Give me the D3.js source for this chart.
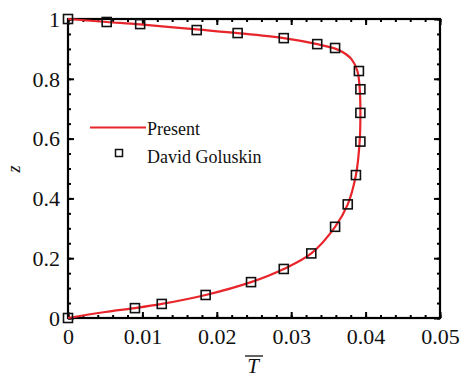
<!DOCTYPE html>
<html><head><meta charset="utf-8">
<script src="https://cdn.jsdelivr.net/npm/d3@7"></script>
<style>body{margin:0;background:#fff}svg{display:block}svg text{font-family:"Liberation Serif","DejaVu Serif",serif !important}</style>
</head><body>
<svg id="c" width="463" height="378"></svg>
<script>
// Data: David Goluskin points (T, z)
const refT = [0, 0.0052, 0.0097, 0.0173, 0.0228, 0.0290, 0.0335, 0.0359, 0.0391, 0.0393, 0.0393, 0.0393, 0.0387, 0.0376, 0.0359, 0.0327, 0.0290, 0.0246, 0.0185, 0.0126, 0.0090, 0];
const refZ = [1, 0.990, 0.983, 0.963, 0.953, 0.936, 0.916, 0.903, 0.826, 0.765, 0.686, 0.590, 0.478, 0.380, 0.305, 0.216, 0.164, 0.120, 0.077, 0.047, 0.033, 0];
// Present curve (T, z)
const curT = [0, 0.0050, 0.0090, 0.0126, 0.0185, 0.0246, 0.0290, 0.0327, 0.0359, 0.0376, 0.0387, 0.0392, 0.0393, 0.0392, 0.0389, 0.0381, 0.0370, 0.0360, 0.0335, 0.0290, 0.0228, 0.0173, 0.0097, 0.0052, 0];
const curZ = [0, 0.020, 0.033, 0.047, 0.077, 0.120, 0.164, 0.216, 0.305, 0.380, 0.478, 0.590, 0.690, 0.770, 0.826, 0.866, 0.888, 0.900, 0.916, 0.936, 0.953, 0.965, 0.982, 0.990, 1];
const xTicks = [0, 0.01, 0.02, 0.03, 0.04, 0.05];
const xTickLabels = ["0", "0.01", "0.02", "0.03", "0.04", "0.05"];
const yTicks = [0, 0.2, 0.4, 0.6, 0.8, 1];
const yTickLabels = ["0", "0.2", "0.4", "0.6", "0.8", "1"];
const legendLabels = ["Present", "David Goluskin"];

const svg = d3.select("#c");
const L = 68, R = 440, T = 19, B = 318;
const x = d3.scaleLinear().domain([0, 0.05]).range([L, R]);
const y = d3.scaleLinear().domain([0, 1]).range([B, T]);
const red = "#e8252b";
const font = "Liberation Serif";

const xMinor = d3.range(0, 0.0501, 0.002);
const yMinor = d3.range(0, 1.001, 0.05);

const gB = svg.append("g").attr("transform", `translate(0,${B})`)
  .call(d3.axisBottom(x).tickValues(xTicks).tickFormat((d,i)=>xTickLabels[i]).tickSize(-6).tickPadding(10));
const gBm = svg.append("g").attr("transform", `translate(0,${B})`)
  .call(d3.axisBottom(x).tickValues(xMinor).tickFormat("").tickSize(-3));
const gT = svg.append("g").attr("transform", `translate(0,${T})`)
  .call(d3.axisTop(x).tickValues(xTicks).tickFormat("").tickSize(-6));
const gTm = svg.append("g").attr("transform", `translate(0,${T})`)
  .call(d3.axisTop(x).tickValues(xMinor).tickFormat("").tickSize(-3));
const gL = svg.append("g").attr("transform", `translate(${L},0)`)
  .call(d3.axisLeft(y).tickValues(yTicks).tickFormat((d,i)=>yTickLabels[i]).tickSize(-6).tickPadding(8));
const gLm = svg.append("g").attr("transform", `translate(${L},0)`)
  .call(d3.axisLeft(y).tickValues(yMinor).tickFormat("").tickSize(-3));
const gR = svg.append("g").attr("transform", `translate(${R},0)`)
  .call(d3.axisRight(y).tickValues(yTicks).tickFormat("").tickSize(-6));
const gRm = svg.append("g").attr("transform", `translate(${R},0)`)
  .call(d3.axisRight(y).tickValues(yMinor).tickFormat("").tickSize(-3));
[gB,gBm,gT,gTm,gL,gLm,gR,gRm].forEach(g=>{
  g.attr("font-family", font);
  g.select(".domain").remove();
  g.selectAll(".tick line").attr("stroke","#000").attr("stroke-width",2);
  g.selectAll("text").attr("font-family",font).attr("font-size",22).attr("fill","#111");
});
gB.selectAll("text").attr("dy","0.72em");
gL.selectAll("text").attr("dy","0.33em");

svg.append("rect").attr("x",L).attr("y",T).attr("width",R-L).attr("height",B-T)
  .attr("fill","none").attr("stroke","#000").attr("stroke-width",2.2);

const line = d3.line().x((d,i)=>x(curT[i])).y((d,i)=>y(curZ[i])).curve(d3.curveCatmullRom.alpha(0.5));
svg.append("path").datum(curT).attr("d",line).attr("fill","none").attr("stroke",red).attr("stroke-width",2.2);

const s = 9;
svg.append("g").selectAll("rect").data(refT).join("rect")
  .attr("x",(d,i)=>x(refT[i])-s/2).attr("y",(d,i)=>y(refZ[i])-s/2)
  .attr("width",s).attr("height",s).attr("fill","none").attr("stroke","#111").attr("stroke-width",1.6);

svg.append("line").attr("x1",90).attr("x2",146).attr("y1",127.5).attr("y2",127.5).attr("stroke",red).attr("stroke-width",2);
svg.append("text").attr("x",147).attr("y",134.5).text(legendLabels[0]).attr("font-family",font).attr("font-size",18).attr("fill","#111");
svg.append("rect").attr("x",115.5).attr("y",149.5).attr("width",7).attr("height",7).attr("fill","none").attr("stroke","#111").attr("stroke-width",1.5);
svg.append("text").attr("x",147).attr("y",162.5).text(legendLabels[1]).attr("font-family",font).attr("font-size",18).attr("fill","#111");

svg.append("text").attr("x",253).attr("y",373).attr("text-anchor","middle")
  .attr("font-family",font).attr("font-size",21).attr("font-style","italic").attr("fill","#111").text("T");
svg.append("line").attr("x1",245).attr("x2",263).attr("y1",356).attr("y2",356).attr("stroke","#111").attr("stroke-width",1.3);
svg.append("text").attr("transform","translate(20,169) rotate(-90)").attr("text-anchor","middle")
  .attr("font-family",font).attr("font-size",18).attr("font-style","italic").attr("fill","#111").text("z");
</script>
</body></html>
